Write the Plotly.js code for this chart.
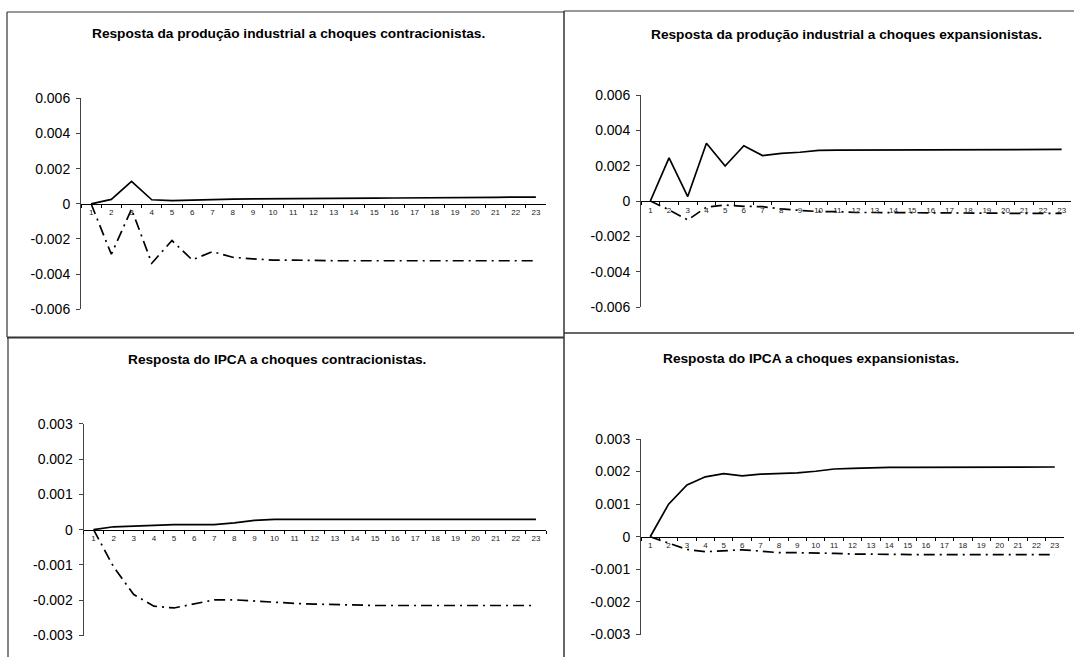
<!DOCTYPE html>
<html><head><meta charset="utf-8">
<script src="https://cdn.plot.ly/plotly-3.0.1.min.js"></script>
<style>html,body{margin:0;padding:0;background:#fff}</style>
</head><body><div id="chart" style="width:1074px;height:657px"></div>
<script>
// ---- data ----
const periods = ["1","2","3","4","5","6","7","8","9","10","11","12","13","14","15","16","17","18","19","20","21","22","23"];

const titles = [
  "Resposta da produção industrial a choques contracionistas.",
  "Resposta da produção industrial a choques expansionistas.",
  "Resposta do IPCA a choques contracionistas.",
  "Resposta do IPCA a choques expansionistas."
];

// Produção industrial - choques contracionistas
const piContrSolid = [0, 0.00025, 0.00128, 0.00023, 0.00018, 0.00022, 0.00024, 0.00027, 0.00028, 0.00028, 0.00028, 0.00031, 0.00032, 0.00032, 0.00032, 0.00033, 0.00033, 0.00033, 0.00033, 0.00037, 0.00037, 0.00038, 0.00038];
const piContrDash  = [0, -0.00287, -0.0003, -0.00338, -0.00209, -0.00319, -0.00272, -0.00304, -0.00313, -0.0032, -0.0032, -0.00323, -0.00324, -0.00324, -0.00324, -0.00324, -0.00324, -0.00324, -0.00324, -0.00324, -0.00324, -0.00324, -0.00324];

// Produção industrial - choques expansionistas
const piExpSolid = [0, 0.00244, 0.00025, 0.00327, 0.00198, 0.00313, 0.00257, 0.0027, 0.00276, 0.00287, 0.00288, 0.00288, 0.00288, 0.00288, 0.0029, 0.00292, 0.00292, 0.00289, 0.00289, 0.00291, 0.00292, 0.00292, 0.00292];
const piExpDash  = [0, -0.0005, -0.00107, -0.00035, -0.00023, -0.0003, -0.00032, -0.00045, -0.00053, -0.0006, -0.0006, -0.00065, -0.00065, -0.00066, -0.00066, -0.00068, -0.0007, -0.0007, -0.0007, -0.0007, -0.0007, -0.0007, -0.0007];

// IPCA - choques contracionistas
const ipcaContrSolid = [0, 0.00008, 0.0001, 0.00013, 0.00014, 0.00014, 0.00014, 0.00019, 0.00026, 0.00029, 0.00029, 0.00029, 0.00029, 0.00029, 0.00029, 0.00029, 0.00029, 0.00029, 0.00029, 0.00029, 0.00029, 0.00029, 0.00029];
const ipcaContrDash  = [0, -0.00106, -0.00184, -0.00217, -0.00222, -0.0021, -0.00199, -0.00199, -0.00203, -0.00206, -0.00209, -0.00211, -0.00213, -0.00214, -0.00215, -0.00215, -0.00215, -0.00215, -0.00215, -0.00215, -0.00215, -0.00215, -0.00215];

// IPCA - choques expansionistas
const ipcaExpSolid = [0, 0.001, 0.00159, 0.00184, 0.00194, 0.00187, 0.00192, 0.00194, 0.00196, 0.00201, 0.00208, 0.0021, 0.00212, 0.00213, 0.00213, 0.00213, 0.00214, 0.00213, 0.00214, 0.00214, 0.00214, 0.00214, 0.00214];
const ipcaExpDash  = [0, -0.0002, -0.00039, -0.00046, -0.00043, -0.0004, -0.00044, -0.00049, -0.00049, -0.00049, -0.00051, -0.00053, -0.00054, -0.00055, -0.00055, -0.00055, -0.00055, -0.00055, -0.00055, -0.00055, -0.00055, -0.00055, -0.00055];

const yTickValsPI   = [-0.006, -0.004, -0.002, 0, 0.002, 0.004, 0.006];
const yTickTextPI   = ["-0.006", "-0.004", "-0.002", "0", "0.002", "0.004", "0.006"];
const yTickValsIPCA = [-0.003, -0.002, -0.001, 0, 0.001, 0.002, 0.003];
const yTickTextIPCA = ["-0.003", "-0.002", "-0.001", "0", "0.001", "0.002", "0.003"];

// ---- layout geometry (pixels) ----
const W = 1074, H = 657;
const px = v => v / W;
const py = v => 1 - v / H;

const panels = [
  {solid: piContrSolid, dash: piContrDash, tv: yTickValsPI, tt: yTickTextPI, range: [-0.006, 0.006],
   x0: 81, x1: 546, yTop: 98.3, yBot: 309.3, tx: 288, ty: 33},
  {solid: piExpSolid, dash: piExpDash, tv: yTickValsPI, tt: yTickTextPI, range: [-0.006, 0.006],
   x0: 641, x1: 1071, yTop: 95, yBot: 307, tx: 846, ty: 35},
  {solid: ipcaContrSolid, dash: ipcaContrDash, tv: yTickValsIPCA, tt: yTickTextIPCA, range: [-0.003, 0.003],
   x0: 83.5, x1: 546, yTop: 423.7, yBot: 635.5, tx: 277, ty: 359},
  {solid: ipcaExpSolid, dash: ipcaExpDash, tv: yTickValsIPCA, tt: yTickTextIPCA, range: [-0.003, 0.003],
   x0: 641, x1: 1064, yTop: 439, yBot: 634.5, tx: 811, ty: 358}
];

const FONT = "Arial, 'Liberation Sans', sans-serif";
const traces = [];
const layout = {
  width: W, height: H,
  margin: {l: 0, r: 0, t: 0, b: 0},
  paper_bgcolor: "#fff", plot_bgcolor: "rgba(0,0,0,0)",
  showlegend: false,
  font: {family: FONT, color: "#000"},
  annotations: [],
  shapes: []
};

panels.forEach((p, i) => {
  const n = i === 0 ? "" : String(i + 1);
  const xa = "x" + n, ya = "y" + n;
  traces.push({x: periods, y: p.solid, xaxis: xa, yaxis: ya, type: "scatter", mode: "lines",
    line: {color: "#000", width: 1.7}, hoverinfo: "skip"});
  traces.push({x: periods, y: p.dash, xaxis: xa, yaxis: ya, type: "scatter", mode: "lines",
    line: {color: "#000", width: 1.7, dash: "11px,5px,2px,5px"}, hoverinfo: "skip"});
  const yDom = [py(p.yBot), py(p.yTop)];
  const zeroPx = p.yBot - (0 - p.range[0]) / (p.range[1] - p.range[0]) * (p.yBot - p.yTop);
  layout["xaxis" + n] = {
    type: "category", domain: [px(p.x0), px(p.x1)], range: [-0.5, 22.5],
    anchor: "free", position: py(zeroPx),
    showline: true, linecolor: "#000", linewidth: 1,
    ticks: "outside", tickson: "boundaries", ticklen: 3, tickcolor: "#000", tickwidth: 1,
    showgrid: false, zeroline: false, fixedrange: true, tickangle: 0,
    tickfont: {size: 8, family: FONT, color: "#222"}, ticklabelstandoff: 1
  };
  layout["yaxis" + n] = {
    domain: yDom, range: p.range, anchor: xa,
    tickvals: p.tv, ticktext: p.tt,
    showline: true, linecolor: "#444", linewidth: 1,
    ticks: "outside", ticklen: 4, tickcolor: "#444",
    showgrid: false, zeroline: false, fixedrange: true,
    tickfont: {size: 14, family: FONT, color: "#000"}, ticklabelstandoff: 3
  };
  layout.annotations.push({
    text: "<b>" + titles[i] + "</b>", xref: "paper", yref: "paper",
    x: px(p.tx), y: py(p.ty), xanchor: "center", yanchor: "middle", showarrow: false,
    font: {size: 13.7, family: FONT, color: "#000"}
  });
});

// panel borders
const ln = (x0, y0, x1, y1, w) => ({type: "line", xref: "paper", yref: "paper",
  x0: px(x0), y0: py(y0), x1: px(x1), y1: py(y1), line: {color: "#333", width: w}});
layout.shapes.push(
  ln(7, 12, 564, 12, 1.2),
  ln(7, 12, 7, 337, 1.2),
  ln(7, 337.5, 564, 337.5, 2.2),
  ln(564, 11, 1074, 11, 1.2),
  ln(564, 11, 564, 657, 1.5),
  ln(564, 333, 1074, 333, 1.5),
  ln(8, 337, 8, 657, 1.2)
);

Plotly.newPlot("chart", traces, layout, {staticPlot: true, displayModeBar: false});
</script>
</body></html>
